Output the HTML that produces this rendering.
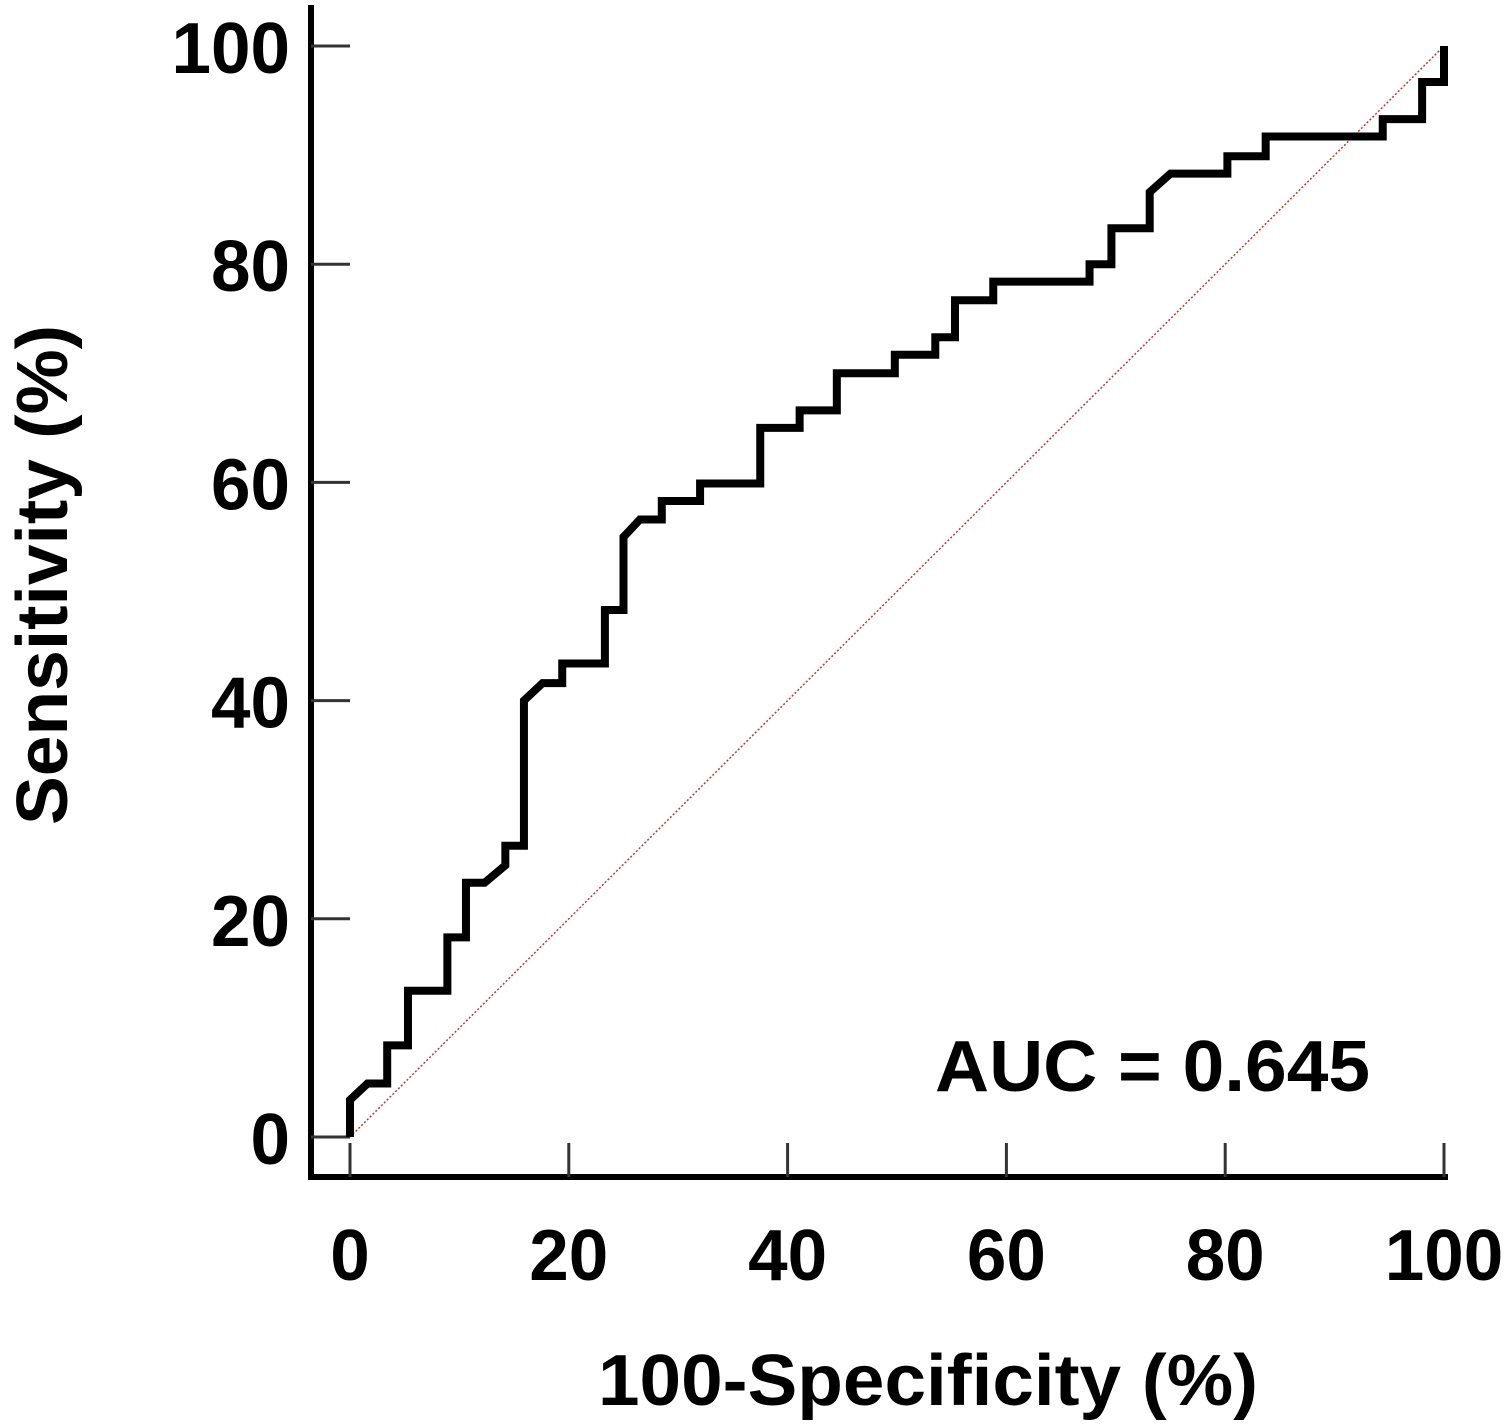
<!DOCTYPE html>
<html><head><meta charset="utf-8"><style>
html,body{margin:0;padding:0;background:#fff;}
svg{display:block;font-family:"Liberation Sans",Arial,sans-serif;font-weight:bold;}
</style></head><body>
<svg id="chart" width="1508" height="1427" viewBox="0 0 1508 1427">
<g id="axes"></g>
<line id="diag" stroke="#c0392b" stroke-width="1.5" stroke-dasharray="2,2"/>
<path id="roc" fill="none" stroke="#000" stroke-width="8" stroke-linejoin="miter"/>
<text x="935" y="1091" font-size="72" textLength="435" lengthAdjust="spacingAndGlyphs">AUC = 0.645</text>
<text x="598" y="1405" font-size="72" textLength="660" lengthAdjust="spacingAndGlyphs">100-Specificity (%)</text>
<text transform="translate(67,825) rotate(-90)" font-size="72" textLength="500" lengthAdjust="spacingAndGlyphs">Sensitivity (%)</text>
</svg>
<script>
const xTicks=[0,20,40,60,80,100];
const yTicks=[0,20,40,60,80,100];
const fpr=[0,0,1.6,3.4,3.4,5.3,5.3,8.9,8.9,10.6,10.6,12.3,14.2,14.2,15.9,15.9,17.6,17.6,19.4,19.4,23.3,23.3,25.0,25.0,26.5,28.5,28.5,32.0,32.0,37.5,37.5,41.1,41.1,44.5,44.5,49.8,49.8,53.5,53.5,55.3,55.3,58.8,58.8,67.6,67.6,69.6,69.6,73.1,73.1,75.0,80.2,80.2,83.7,83.7,94.4,94.4,98.0,98.0,100,100];
const tpr=[0,3.4,4.9,4.9,8.4,8.4,13.4,13.4,18.3,18.3,23.3,23.3,24.9,26.7,26.7,40.0,41.6,41.6,41.6,43.4,43.4,48.3,48.3,55.0,56.6,56.6,58.3,58.3,59.9,59.9,65.0,65.0,66.6,66.6,70.0,70.0,71.7,71.7,73.3,73.3,76.7,76.7,78.4,78.4,80.0,80.0,83.3,83.3,86.6,88.3,88.3,89.9,89.9,91.7,91.7,93.3,93.3,96.7,96.7,100];
const X=v=>350+v*10.94, Y=v=>1137-v*10.91;
const NS="http://www.w3.org/2000/svg";
const ax=document.getElementById('axes');
function mk(t,a,p){const e=document.createElementNS(NS,t);for(const k in a)e.setAttribute(k,a[k]);(p||ax).appendChild(e);return e;}
const ya=mk('line',{x1:311,y1:5,x2:311,y2:1180,stroke:'#000','stroke-width':6});


const xa=mk('line',{x1:308,y1:1177,x2:1448,y2:1177,stroke:'#000','stroke-width':6});


yTicks.forEach(v=>{
 const l=mk('line',{x1:311,y1:Y(v),x2:350,y2:Y(v),stroke:'#333','stroke-width':3});
 
 
 const s=String(v);
 const t=mk('text',{x:290,y:Y(v)+27,'font-size':72,'text-anchor':'end',textLength:s.length*39.5,lengthAdjust:'spacingAndGlyphs'});t.textContent=s;
 
 
});
xTicks.forEach(v=>{
 const l=mk('line',{x1:X(v),y1:1143,x2:X(v),y2:1177,stroke:'#333','stroke-width':3});
 
 
 const s=String(v);
 const t=mk('text',{x:X(v),y:1280,'font-size':72,'text-anchor':'middle',textLength:s.length*39.5,lengthAdjust:'spacingAndGlyphs'});t.textContent=s;
 
 
});
const d=document.getElementById('diag');
d.setAttribute('x1',X(0));d.setAttribute('y1',Y(0));d.setAttribute('x2',X(100));d.setAttribute('y2',Y(100));
document.getElementById('roc').setAttribute('d',fpr.map((v,i)=>(i?'L':'M')+X(v)+','+Y(tpr[i])).join(''));
</script>
</body></html>
